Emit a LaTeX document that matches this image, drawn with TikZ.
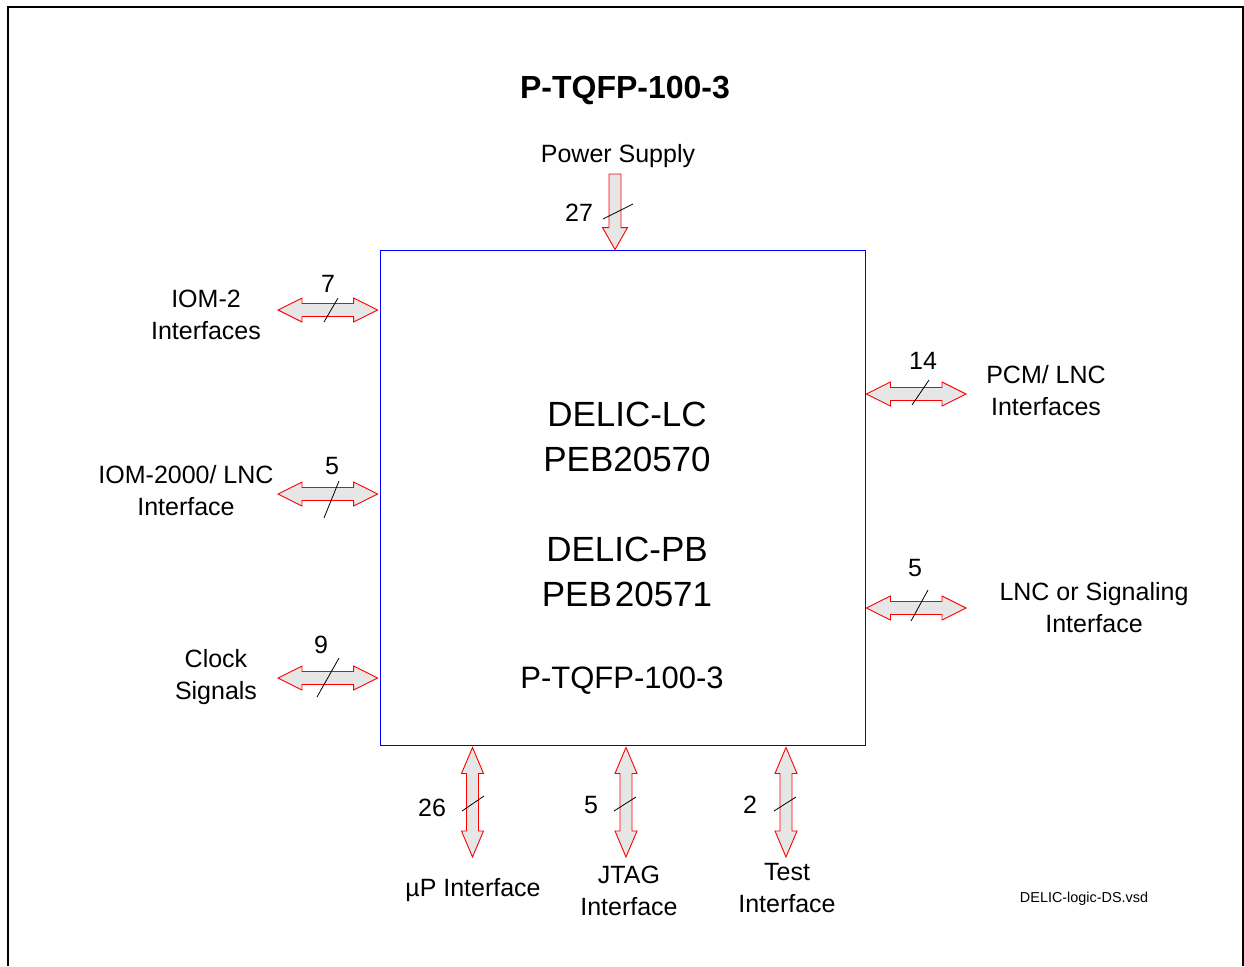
\documentclass[tikz,border=0pt]{standalone}
\usepackage{fontspec}
\setmainfont{Liberation Sans}
\usetikzlibrary{calc}
\definecolor{arrfill}{RGB}{230,230,230}
\definecolor{arrline}{RGB}{255,0,0}
\newcommand{\hdarrow}[2]{%
  \filldraw[dblarrow] (#1) -- ++(24,-12) -- ++(0,5.5) -- ($(#2)+(-24,-6.5)$) -- ++(0,-5.5) -- (#2)
    -- ++(-24,12) -- ++(0,-5.5) -- ($(#1)+(24,6.5)$) -- ++(0,5.5) -- cycle;}
\newcommand{\vdarrow}[2]{%
  \filldraw[dblarrow] (#1) -- ++(-11,26) -- ++(5,0) -- ($(#2)+(-6,-26)$) -- ++(-5,0) -- (#2)
    -- ++(11,-26) -- ++(-5,0) -- ($(#1)+(6,26)$) -- ++(5,0) -- cycle;}
\begin{document}
\begin{tikzpicture}[x=1pt,y=-1pt,
  dblarrow/.style={draw=arrline,fill=arrfill,line width=0.9pt,line join=miter},
  slash/.style={draw=black,line width=0.8pt},
  lbl/.style={inner sep=0pt,align=center,font=\fontsize{25}{32}\selectfont},
  num/.style={inner sep=0pt,font=\fontsize{25}{30}\selectfont},
  chiptxt/.style={inner sep=0pt,align=center,font=\fontsize{35}{45}\selectfont}]
\useasboundingbox (0,0) rectangle (1244,966);
% frame
\draw[line width=1.2pt] (8,966) -- (8,7) -- (1243,7) -- (1243,966);
% title
\node[inner sep=0pt,font=\bfseries\fontsize{32}{36}\selectfont] (title) at (625,90) {P-TQFP-100-3};
% chip
\node[draw=blue,line width=0.9pt,minimum width=485pt,minimum height=495pt,inner sep=0pt] (chip) at (622.5,497.5) {};
\node[chiptxt] (t1) at (627,437) {DELIC-LC\\PEB20570};
\node[chiptxt] (t2) at (627,572) {DELIC-PB\\PEB\kern3pt20571};
\node[inner sep=0pt,font=\fontsize{31}{36}\selectfont] (t3) at (622,681) {P-TQFP-100-3};
% power supply
\node[lbl] (pwr) at (618,156) {Power Supply};
\coordinate (pwrA) at (615,174);
\coordinate (pwrB) at (chip.north -| pwrA);
\filldraw[dblarrow] ($(pwrA)+(-6,0)$) -- ($(pwrA)+(6,0)$) -- ($(pwrB)+(6,-22)$) -- ++(6.5,0) -- (pwrB)
  -- ++(-12.5,-22) -- ++(6.5,0) -- cycle;
\draw[slash] (603,219) -- (633,204);
\node[num] (n27) at (579,213) {27};
% left side
\node[lbl] (iom2) at (206,315) {IOM-2\\Interfaces};
\coordinate (iom2A) at (278,310);
\coordinate (iom2B) at ($(chip.west |- iom2A)+(-2,0)$);
\hdarrow{iom2A}{iom2B}
\draw[slash] (324,322) -- (338,298);
\node[num] (n7) at (328,284) {7};

\node[lbl] (iom2k) at (186,491) {IOM-2000/ LNC\\Interface};
\coordinate (iom2kA) at (278,494);
\coordinate (iom2kB) at ($(chip.west |- iom2kA)+(-2,0)$);
\hdarrow{iom2kA}{iom2kB}
\draw[slash] (324,518) -- (339,481);
\node[num] (n5a) at (332,466) {5};

\node[lbl] (clk) at (216,677) {Clock\\Signals};
\coordinate (clkA) at (278,678);
\coordinate (clkB) at ($(chip.west |- clkA)+(-2,0)$);
\hdarrow{clkA}{clkB}
\draw[slash] (317,697) -- (339,658);
\node[num] (n9) at (321,645) {9};
% right side
\node[lbl] (pcm) at (1046,391) {PCM/ LNC\\Interfaces};
\coordinate (pcmB) at (966,394);
\coordinate (pcmA) at ($(chip.east |- pcmB)+(1,0)$);
\hdarrow{pcmA}{pcmB}
\draw[slash] (912,405) -- (929,380);
\node[num] (n14) at (923,361) {14};

\node[lbl] (lnc) at (1094,608) {LNC or Signaling\\Interface};
\coordinate (lncB) at (966,608);
\coordinate (lncA) at ($(chip.east |- lncB)+(1,0)$);
\hdarrow{lncA}{lncB}
\draw[slash] (911,621) -- (928,590);
\node[num] (n5b) at (915,568) {5};
% bottom
\coordinate (upB) at (472.5,857);
\coordinate (upA) at ($(chip.south -| upB)+(0,2)$);
\vdarrow{upA}{upB}
\draw[slash] (462,811) -- (484,796);
\node[num] (n26) at (432,808) {26};
\node[lbl] (up) at (473,890) {µP Interface};

\coordinate (jtB) at (626,857);
\coordinate (jtA) at ($(chip.south -| jtB)+(0,2)$);
\vdarrow{jtA}{jtB}
\draw[slash] (614,811) -- (636,797);
\node[num] (n5c) at (591,805) {5};
\node[lbl] (jtag) at (629,891) {JTAG\\Interface};

\coordinate (tsB) at (786,857);
\coordinate (tsA) at ($(chip.south -| tsB)+(0,2)$);
\vdarrow{tsA}{tsB}
\draw[slash] (774,811) -- (796,797);
\node[num] (n2) at (750,805) {2};
\node[lbl] (test) at (787,888) {Test\\Interface};
% file name
\node[inner sep=0pt,font=\fontsize{14.4}{17}\selectfont] (fname) at (1084,899) {DELIC-logic-DS.vsd};
\end{tikzpicture}
\end{document}
